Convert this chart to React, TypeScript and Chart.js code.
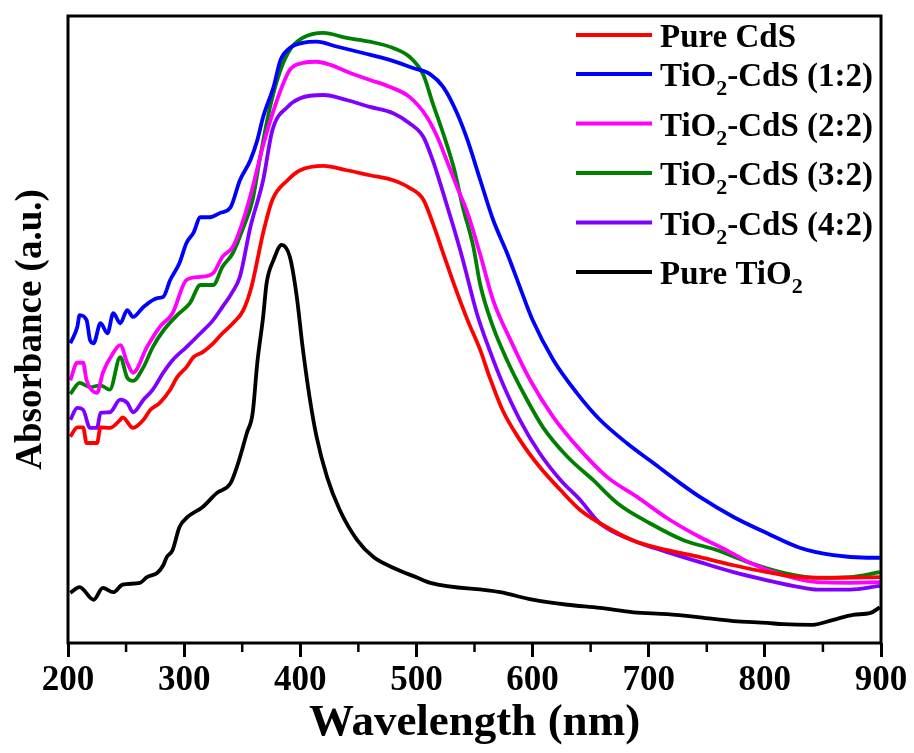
import React, { useEffect, useRef } from "react";
import { Chart, registerables } from "chart.js";

Chart.register(...registerables);

// Wavelength (nm), absorbance (a.u., arbitrary 0..1)
const pureCdS: [number, number][] = [
  [202, 0.329], [208, 0.344], [213, 0.344], [216, 0.319], [225, 0.319], [228, 0.344], [236, 0.343],
  [245, 0.356], [247, 0.36], [256, 0.343], [265, 0.356], [271, 0.372], [279, 0.383], [288, 0.404],
  [294, 0.424], [302, 0.44], [308, 0.456], [316, 0.464], [325, 0.478], [333, 0.494], [342, 0.51],
  [351, 0.531], [358, 0.568], [368, 0.654], [376, 0.707], [389, 0.738], [400, 0.754], [420, 0.761],
  [440, 0.754], [460, 0.746], [480, 0.738], [494, 0.726], [506, 0.707], [514, 0.67], [523, 0.622],
  [532, 0.574], [544, 0.515], [555, 0.467], [563, 0.424], [574, 0.372], [589, 0.324], [606, 0.281],
  [624, 0.244], [641, 0.212], [658, 0.191], [686, 0.164], [716, 0.148], [744, 0.137], [773, 0.124],
  [802, 0.113], [830, 0.105], [859, 0.104], [899, 0.105],
];

const tio2CdS12: [number, number][] = [
  [202, 0.478], [208, 0.504], [210, 0.523], [216, 0.515], [219, 0.483], [222, 0.478], [228, 0.51],
  [234, 0.494], [239, 0.526], [245, 0.51], [251, 0.531], [256, 0.52], [265, 0.536], [277, 0.55],
  [282, 0.552], [288, 0.579], [296, 0.606], [302, 0.638], [308, 0.654], [314, 0.679], [322, 0.679],
  [331, 0.686], [340, 0.695], [348, 0.738], [357, 0.77], [363, 0.802], [368, 0.839], [377, 0.887],
  [383, 0.93], [391, 0.949], [402, 0.957], [414, 0.959], [432, 0.951], [454, 0.941], [477, 0.93],
  [497, 0.917], [512, 0.907], [523, 0.887], [535, 0.845], [544, 0.802], [555, 0.738], [566, 0.675],
  [578, 0.622], [589, 0.568], [600, 0.515], [618, 0.451], [638, 0.399], [658, 0.356], [681, 0.319],
  [704, 0.287], [727, 0.255], [744, 0.233], [773, 0.201], [802, 0.175], [830, 0.152], [859, 0.14],
  [888, 0.136], [899, 0.136],
];

const tio2CdS22: [number, number][] = [
  [202, 0.419], [208, 0.447], [213, 0.447], [216, 0.419], [225, 0.399], [230, 0.431], [239, 0.463],
  [245, 0.475], [251, 0.447], [256, 0.431], [268, 0.472], [279, 0.504], [290, 0.526], [302, 0.579],
  [314, 0.584], [325, 0.59], [333, 0.616], [342, 0.632], [351, 0.675], [359, 0.727], [368, 0.794],
  [380, 0.866], [391, 0.914], [402, 0.925], [414, 0.927], [426, 0.922], [443, 0.909], [460, 0.898],
  [477, 0.887], [494, 0.871], [509, 0.839], [518, 0.807], [526, 0.77], [535, 0.727], [544, 0.686],
  [555, 0.619], [566, 0.547], [581, 0.483], [598, 0.419], [618, 0.36], [641, 0.308], [664, 0.265],
  [690, 0.233], [716, 0.199], [744, 0.169], [767, 0.148], [787, 0.128], [816, 0.108], [845, 0.097],
  [873, 0.096], [899, 0.097],
];

const tio2CdS32: [number, number][] = [
  [202, 0.397], [210, 0.415], [219, 0.408], [228, 0.411], [236, 0.404], [245, 0.456], [251, 0.423],
  [256, 0.418], [265, 0.44], [273, 0.472], [282, 0.498], [294, 0.523], [305, 0.542], [314, 0.571],
  [325, 0.571], [333, 0.6], [342, 0.622], [351, 0.663], [359, 0.707], [365, 0.77], [374, 0.855],
  [383, 0.914], [391, 0.946], [402, 0.965], [420, 0.973], [440, 0.965], [460, 0.959], [480, 0.949],
  [494, 0.935], [506, 0.906], [514, 0.861], [523, 0.813], [532, 0.759], [540, 0.695], [549, 0.632],
  [555, 0.571], [566, 0.504], [578, 0.451], [592, 0.399], [609, 0.344], [630, 0.297], [652, 0.26],
  [673, 0.223], [701, 0.191], [730, 0.164], [759, 0.148], [787, 0.128], [816, 0.112], [845, 0.104],
  [873, 0.105], [899, 0.113],
];

const tio2CdS42: [number, number][] = [
  [202, 0.356], [208, 0.375], [213, 0.372], [219, 0.343], [225, 0.343], [228, 0.367], [236, 0.368],
  [245, 0.388], [251, 0.383], [256, 0.368], [265, 0.388], [273, 0.404], [282, 0.431], [290, 0.451],
  [302, 0.472], [314, 0.494], [325, 0.515], [333, 0.536], [341, 0.558], [348, 0.584], [357, 0.663],
  [368, 0.738], [376, 0.818], [389, 0.855], [400, 0.869], [420, 0.874], [440, 0.866], [460, 0.855],
  [480, 0.845], [494, 0.829], [506, 0.807], [514, 0.77], [523, 0.718], [532, 0.663], [540, 0.611],
  [552, 0.526], [563, 0.467], [574, 0.415], [589, 0.356], [606, 0.303], [624, 0.26], [641, 0.228],
  [658, 0.191], [686, 0.164], [716, 0.145], [744, 0.129], [773, 0.113], [802, 0.1], [830, 0.089],
  [845, 0.085], [873, 0.085], [899, 0.091],
];

const pureTiO2: [number, number][] = [
  [202, 0.08], [210, 0.089], [222, 0.069], [230, 0.088], [239, 0.081], [247, 0.093], [262, 0.096],
  [268, 0.105], [277, 0.112], [282, 0.124], [285, 0.137], [290, 0.148], [296, 0.185], [303, 0.201],
  [316, 0.217], [328, 0.239], [340, 0.255], [346, 0.284], [354, 0.335], [359, 0.367], [363, 0.447],
  [368, 0.52], [371, 0.574], [377, 0.611], [384, 0.635], [391, 0.616], [397, 0.552], [402, 0.472],
  [408, 0.392], [414, 0.329], [423, 0.265], [434, 0.212], [449, 0.164], [463, 0.137], [480, 0.12],
  [501, 0.104], [512, 0.096], [572, 0.081], [600, 0.069], [630, 0.061], [658, 0.056], [687, 0.049],
  [716, 0.046], [744, 0.041], [773, 0.035], [802, 0.032], [816, 0.03], [841, 0.029], [859, 0.037],
  [876, 0.045], [891, 0.048], [899, 0.057],
];

const seriesLabels = [
  "Pure CdS",
  "TiO₂-CdS (1:2)",
  "TiO₂-CdS (2:2)",
  "TiO₂-CdS (3:2)",
  "TiO₂-CdS (4:2)",
  "Pure TiO₂",
];
const seriesData = [pureCdS, tio2CdS12, tio2CdS22, tio2CdS32, tio2CdS42, pureTiO2];
const seriesColors = ["#FF0000", "#0000FF", "#FF00FF", "#008000", "#8000FF", "#000000"];

const xTickValues = [200, 300, 400, 500, 600, 700, 800, 900];
const xTitle = "Wavelength (nm)";
const yTitle = "Absorbance (a.u.)";

const FONT = "'Liberation Serif', 'Times New Roman', serif";

const framePlugin = {
  id: "frameAndMinor",
  afterDraw(chart: any) {
    const { ctx, chartArea } = chart;
    const xs = chart.scales.x;
    ctx.save();
    ctx.strokeStyle = "#000";
    ctx.lineWidth = 3;
    ctx.strokeRect(chartArea.left, chartArea.top, chartArea.right - chartArea.left, chartArea.bottom - chartArea.top);
    const ticks = xs.ticks.map((t: any) => t.value);
    ctx.lineWidth = 2.5;
    for (let i = 0; i < ticks.length - 1; i++) {
      const mid = (ticks[i] + ticks[i + 1]) / 2;
      const px = xs.getPixelForValue(mid);
      ctx.beginPath();
      ctx.moveTo(px, chartArea.bottom);
      ctx.lineTo(px, chartArea.bottom + 9);
      ctx.stroke();
    }
    ctx.restore();
  },
};

const legendPlugin = {
  id: "customLegend",
  afterDraw(chart: any) {
    const { ctx } = chart;
    const lineX0 = 576;
    const lineX1 = 652;
    const textX = 660;
    let y = 35;
    ctx.save();
    chart.data.datasets.forEach((ds: any) => {
      const label: string = ds.label;
      ctx.strokeStyle = ds.borderColor;
      ctx.lineWidth = 4;
      ctx.beginPath();
      ctx.moveTo(lineX0, y);
      ctx.lineTo(lineX1, y);
      ctx.stroke();
      ctx.fillStyle = "#000";
      ctx.textBaseline = "alphabetic";
      ctx.textAlign = "left";
      const baseline = y + 12;
      const parts = label.split("₂");
      let x = textX;
      parts.forEach((p, k) => {
        ctx.font = `bold 33px ${FONT}`;
        ctx.fillText(p, x, baseline);
        x += ctx.measureText(p).width;
        if (k < parts.length - 1) {
          ctx.font = `bold 22px ${FONT}`;
          ctx.fillText("2", x, baseline + 9);
          x += ctx.measureText("2").width;
        }
      });
      const hasSub = parts.length > 1;
      y += hasSub ? 49.5 : 39;
    });
    ctx.restore();
  },
};

export default function App() {
  const ref = useRef<HTMLCanvasElement | null>(null);
  useEffect(() => {
    document.body.style.margin = "0";
    if (!ref.current) return;
    const chart = new Chart(ref.current, {
      type: "line",
      data: {
        datasets: seriesData.map((d, i) => ({
          label: seriesLabels[i],
          data: d.map(([x, y]) => ({ x, y })),
          borderColor: seriesColors[i],
          backgroundColor: seriesColors[i],
          borderWidth: 3.8,
          pointRadius: 0,
          cubicInterpolationMode: "monotone" as const,
          fill: false,
        })),
      },
      options: {
        responsive: false,
        animation: false,
        layout: { padding: { top: 16, right: 33, left: 0, bottom: 0 } },
        plugins: {
          legend: { display: false },
          tooltip: { enabled: false },
        },
        scales: {
          x: {
            type: "linear",
            min: 200,
            max: 900,
            afterFit: (s: any) => {
              s.height = 110;
            },
            afterBuildTicks: (s: any) => {
              s.ticks = xTickValues.map((v) => ({ value: v }));
            },
            border: { display: false },
            grid: {
              display: true,
              drawOnChartArea: false,
              drawTicks: true,
              tickLength: 14,
              lineWidth: 3,
              color: "#000",
            },
            ticks: {
              autoSkip: false,
              maxRotation: 0,
              padding: 3,
              color: "#000",
              font: { family: FONT, size: 35, weight: "bold" },
              callback: (v: any) => String(v),
            },
            title: {
              display: true,
              text: xTitle,
              color: "#000",
              font: { family: FONT, size: 45, weight: "bold", lineHeight: 1 },
              padding: { top: 0, bottom: 7 },
            },
          },
          y: {
            type: "linear",
            min: 0,
            max: 1,
            afterFit: (s: any) => {
              s.width = 68;
            },
            border: { display: false },
            grid: { display: false },
            ticks: { display: false },
            title: {
              display: true,
              text: yTitle,
              color: "#000",
              font: { family: FONT, size: 37, weight: "bold", lineHeight: 1 },
              padding: { top: 13, bottom: 0 },
            },
          },
        },
      },
      plugins: [framePlugin, legendPlugin],
    });
    return () => chart.destroy();
  }, []);
  return (
    <div style={{ position: "absolute", left: 0, top: 0, width: 914, height: 753, background: "#fff" }}>
      <canvas ref={ref} width={914} height={753} />
    </div>
  );
}
